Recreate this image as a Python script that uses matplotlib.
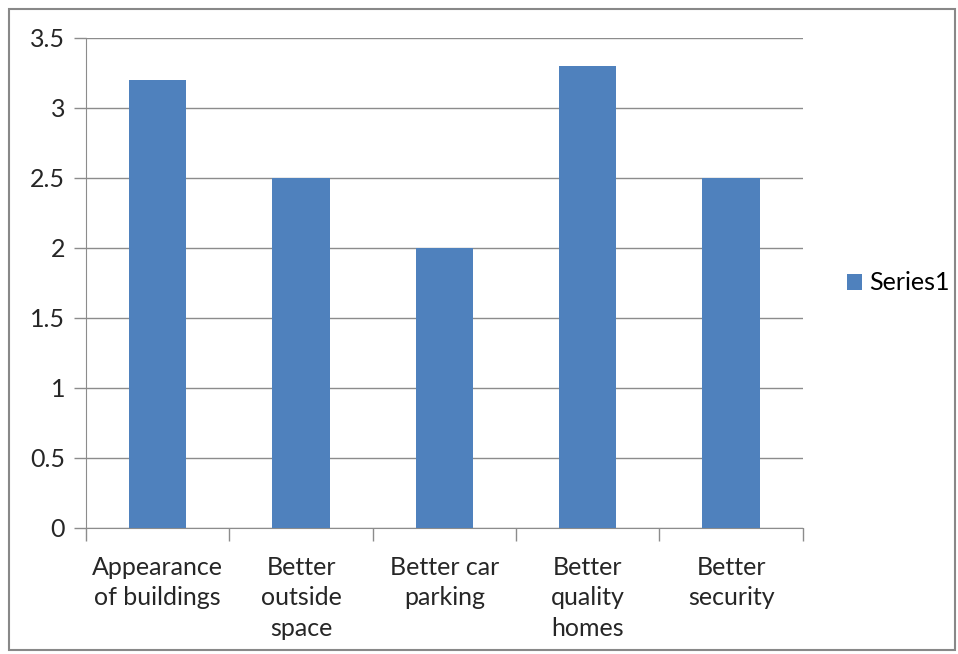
import matplotlib.pyplot as plt
from matplotlib.patches import Rectangle
import numpy as np

categories = ["Appearance\nof buildings", "Better\noutside\nspace", "Better car\nparking",
              "Better\nquality\nhomes", "Better\nsecurity"]
series1 = [3.2, 2.5, 2.0, 3.3, 2.5]
yticks = [0, 0.5, 1, 1.5, 2, 2.5, 3, 3.5]
ytick_labels = ["0", "0.5", "1", "1.5", "2", "2.5", "3", "3.5"]

plt.rcParams['font.family'] = ['Lato', 'DejaVu Sans']
plt.rcParams['font.size'] = 18

grey = '#8c8c8c'
fig = plt.figure(figsize=(9.58, 6.54), dpi=100)
ax = fig.add_axes([0.0898, 0.1927, 0.7482, 0.7492])

x = np.arange(len(categories))
ax.bar(x, series1, width=0.4, color='#4f81bd', label='Series1', zorder=3)

ax.set_xlim(-0.5, len(categories) - 0.5)
ax.set_ylim(0, 3.5)
ax.set_yticks(yticks)
ax.set_yticklabels(ytick_labels, color='#262626')
ax.yaxis.grid(True, color=grey, linewidth=1, zorder=0)

# category labels centred under bars, tick marks on the boundaries
ax.set_xticks(x)
ax.set_xticklabels(categories, color='#262626', linespacing=1.4)
ax.tick_params(axis='x', length=0, pad=20)
ax.set_xticks(np.arange(len(categories) + 1) - 0.5, minor=True)
ax.tick_params(axis='x', which='minor', length=9, color=grey, width=1)
ax.tick_params(axis='y', length=9, color=grey, width=1, pad=6)

for side in ['top', 'right']:
    ax.spines[side].set_visible(False)
for side in ['left', 'bottom']:
    ax.spines[side].set_color(grey)

ax.legend(loc='center left', bbox_to_anchor=(1.03, 0.5), frameon=False,
          handlelength=0.6, handleheight=0.6, handletextpad=0.3, fontsize=18)

# outer chart border
fig.add_artist(Rectangle((0.009, 0.006), 0.988, 0.98, transform=fig.transFigure,
                         fill=False, edgecolor='#888888', linewidth=1.5))

fig.savefig('out.png', dpi=100)
